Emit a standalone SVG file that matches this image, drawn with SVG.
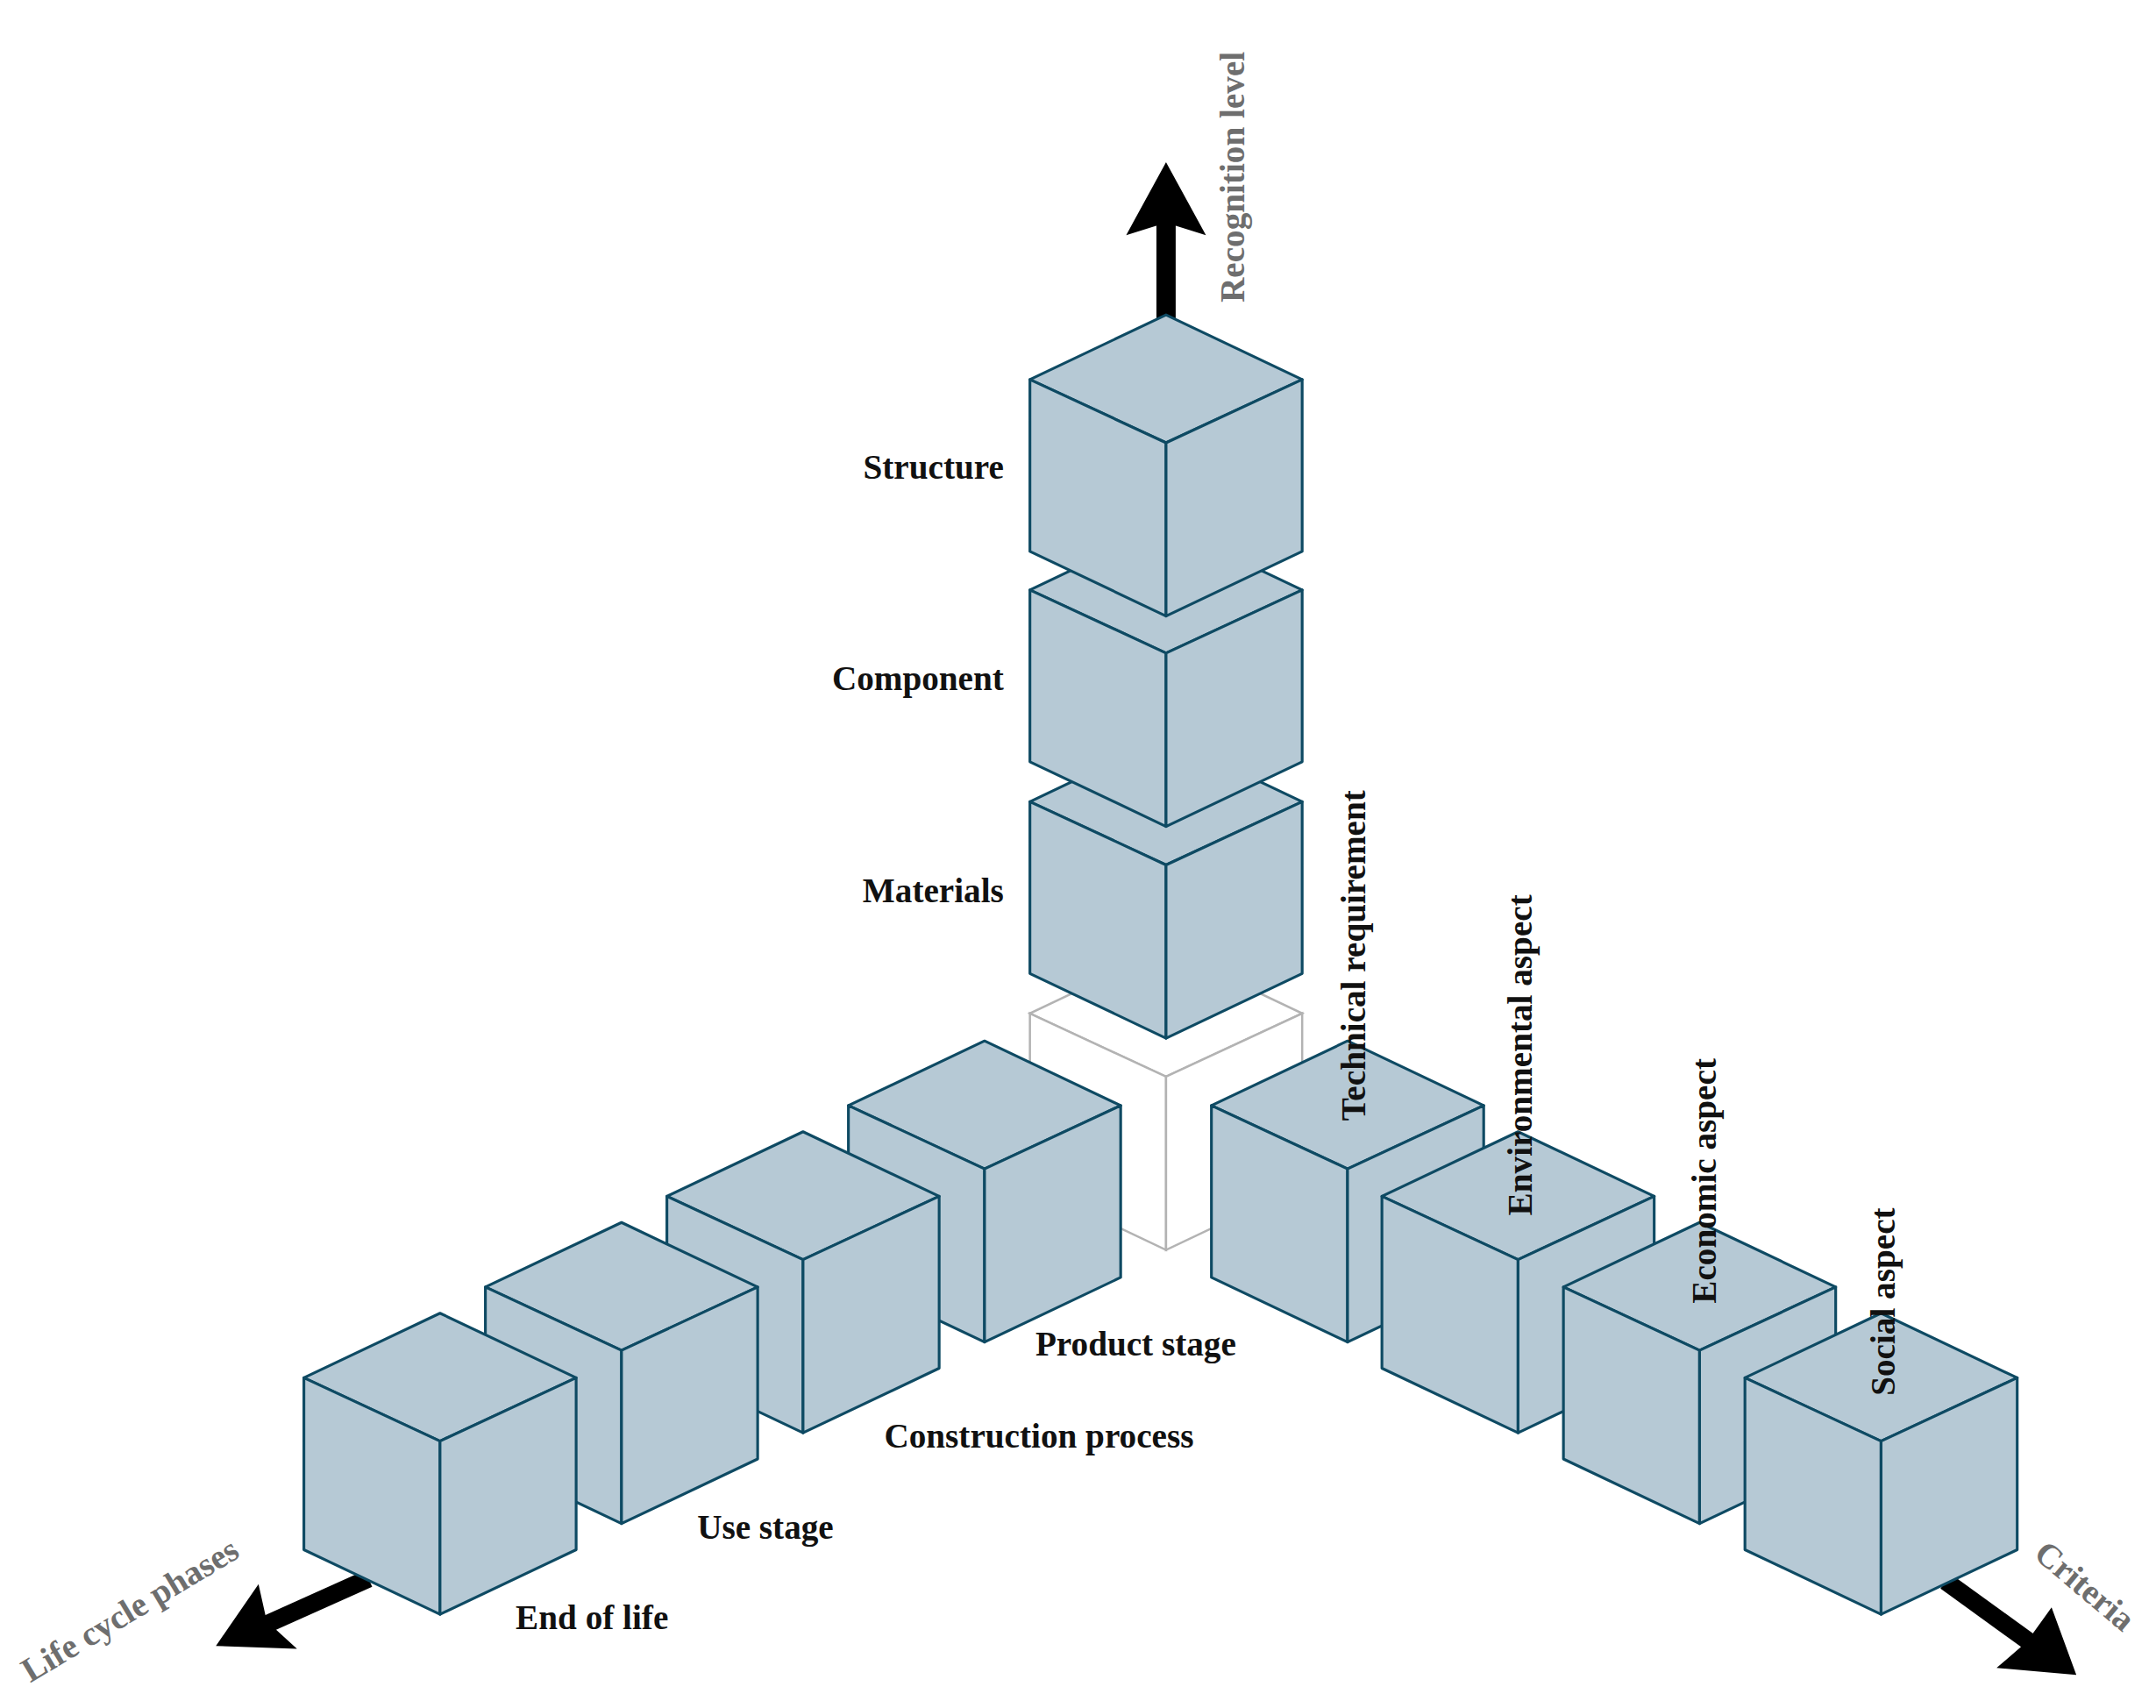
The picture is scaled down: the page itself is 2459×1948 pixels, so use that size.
<svg xmlns="http://www.w3.org/2000/svg" xmlns:xlink="http://www.w3.org/1999/xlink" width="2459" height="1948" viewBox="0 0 2459 1948">
<style>
.cf{fill:#b6c9d5;stroke:#0e4a63;stroke-width:2;stroke-linejoin:round}
.gf{fill:#fff;stroke:#b3b3b3;stroke-width:1.6}
.lb{font-family:"Liberation Serif",serif;font-weight:bold;font-size:25px;fill:#111}
.ax{font-family:"Liberation Serif",serif;font-weight:bold;font-size:25px;fill:#6e6e6e}
</style>
<defs>
<g id="cube" class="cf">
<polygon points="0,0 99,47 0,93 -99,47"/>
<polygon points="-99,47 0,93 0,219 -99,172"/>
<polygon points="0,93 99,47 99,172 0,219"/>
</g>
<g id="ghost" class="gf">
<polygon points="0,0 99,47 0,93 -99,47"/>
<polygon points="-99,47 0,93 0,219 -99,172"/>
<polygon points="0,93 99,47 99,172 0,219"/>
</g>
</defs>
<rect width="2459" height="1948" fill="#fff"/>
<g transform="scale(1.5683)">
<g id="connectors">
<rect x="841" y="160" width="14" height="72" fill="#000"/>
<polygon points="848,118 877,171 848,162 819,171" fill="#000"/>
<line x1="268" y1="1148" x2="190" y2="1183" stroke="#000" stroke-width="13"/>
<polygon points="157,1197 188,1152 194,1179 216,1199" fill="#000"/>
<line x1="1415" y1="1150" x2="1480" y2="1197" stroke="#000" stroke-width="13"/>
<polygon points="1510,1218 1452,1213 1474,1194 1492,1169" fill="#000"/>
</g>
<g id="origin"><use xlink:href="#ghost" transform="translate(848,690)"/></g>
<g id="materials"><use xlink:href="#cube" transform="translate(848,536)"/><text class="lb" x="730" y="656" text-anchor="end">Materials</text></g>
<g id="component"><use xlink:href="#cube" transform="translate(848,382)"/><text class="lb" x="730" y="502" text-anchor="end">Component</text></g>
<g id="structure"><use xlink:href="#cube" transform="translate(848,229)"/><text class="lb" x="730" y="348" text-anchor="end">Structure</text></g>
<g id="product"><use xlink:href="#cube" transform="translate(716,757)"/><text class="lb" x="753" y="986">Product stage</text></g>
<g id="construction"><use xlink:href="#cube" transform="translate(584,823)"/><text class="lb" x="643" y="1053">Construction process</text></g>
<g id="use"><use xlink:href="#cube" transform="translate(452,889)"/><text class="lb" x="507" y="1119">Use stage</text></g>
<g id="endoflife"><use xlink:href="#cube" transform="translate(320,955)"/><text class="lb" x="375" y="1185">End of life</text></g>
<g id="technical"><use xlink:href="#cube" transform="translate(980,757)"/></g>
<g id="environmental"><use xlink:href="#cube" transform="translate(1104,823)"/></g>
<g id="economic"><use xlink:href="#cube" transform="translate(1236,889)"/></g>
<g id="social"><use xlink:href="#cube" transform="translate(1368,955)"/></g>
<g id="criteria-labels">
<text class="lb" transform="translate(993,815) rotate(-90)">Technical requirement</text>
<text class="lb" transform="translate(1114,884) rotate(-90)">Environmental aspect</text>
<text class="lb" transform="translate(1248,948) rotate(-90)">Economic aspect</text>
<text class="lb" transform="translate(1378,1015) rotate(-90)">Social aspect</text>
</g>
<g id="axis-labels">
<text class="ax" transform="translate(905,220) rotate(-90)">Recognition level</text>
<text class="ax" transform="translate(22,1224) rotate(-31)">Life cycle phases</text>
<text class="ax" transform="translate(1478,1132) rotate(40)">Criteria</text>
</g>
</g>
</svg>
